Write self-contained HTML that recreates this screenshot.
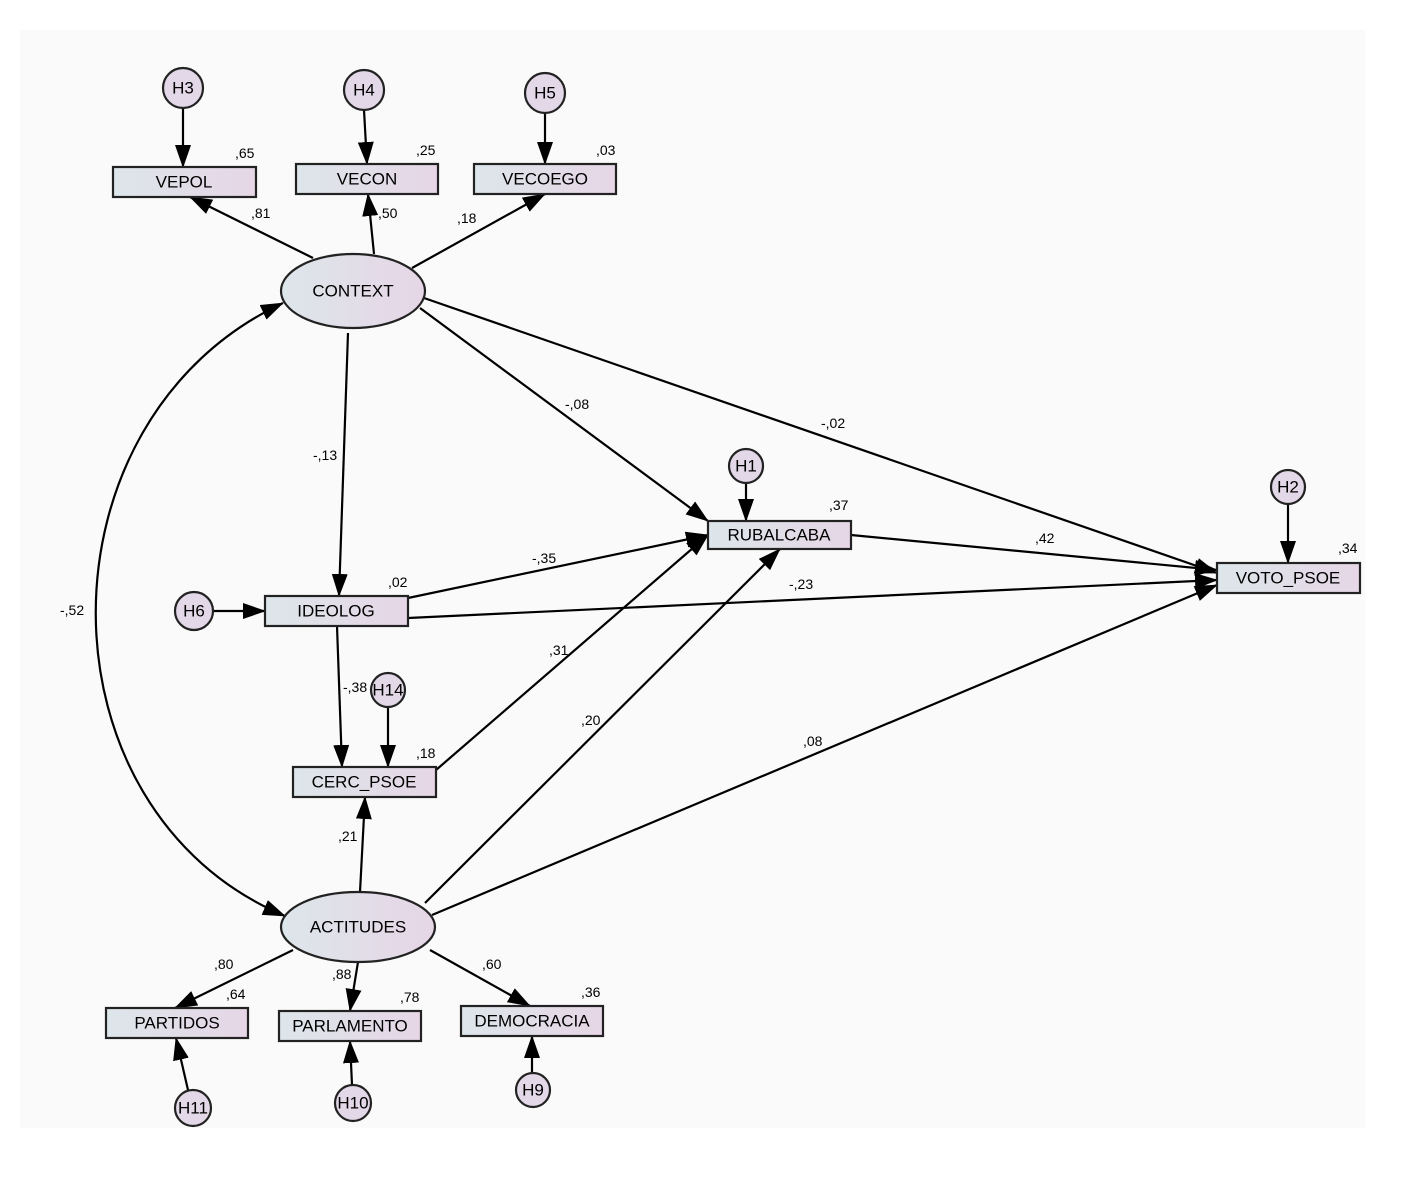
<!DOCTYPE html>
<html><head><meta charset="utf-8"><style>
body{margin:0;background:#fff}
svg{display:block}
text{font-family:"Liberation Sans",sans-serif;fill:#000}
.n{font-size:17px;text-anchor:middle;dominant-baseline:central}
.l{font-size:14px}
</style></head><body>
<svg width="1425" height="1185" viewBox="0 0 1425 1185" xmlns="http://www.w3.org/2000/svg">
<defs>
<linearGradient id="g" x1="0" y1="0" x2="1" y2="0"><stop offset="0" stop-color="#dde6ea"/><stop offset="1" stop-color="#e6d6e6"/></linearGradient>
<marker id="a" markerUnits="userSpaceOnUse" markerWidth="24" markerHeight="16" refX="22" refY="8" orient="auto"><path d="M0,0 L23,8 L0,16 Z" fill="#000"/></marker>
<marker id="b" markerUnits="userSpaceOnUse" markerWidth="24" markerHeight="16" refX="22" refY="8" orient="auto-start-reverse"><path d="M0,0 L23,8 L0,16 Z" fill="#000"/></marker>
</defs>
<rect x="20" y="30" width="1345" height="1098" fill="#fafafa"/>
<g stroke="#000" stroke-width="2.2" fill="none" marker-end="url(#a)">
<line x1="183" y1="108" x2="183" y2="167"/>
<line x1="364" y1="110" x2="367" y2="164"/>
<line x1="545" y1="113" x2="545" y2="164"/>
<line x1="313" y1="258" x2="190" y2="197"/>
<line x1="374" y1="254" x2="368" y2="194"/>
<line x1="412" y1="268" x2="545" y2="194"/>
<line x1="420" y1="308" x2="708" y2="521"/>
<line x1="424" y1="298" x2="1217" y2="573"/>
<line x1="348" y1="333" x2="339" y2="596"/>
<line x1="746" y1="483" x2="746" y2="521"/>
<line x1="1288" y1="504" x2="1288" y2="563"/>
<line x1="851" y1="535" x2="1217" y2="570"/>
<line x1="214" y1="611" x2="265" y2="611"/>
<line x1="408" y1="598" x2="708" y2="535"/>
<line x1="408" y1="618" x2="1217" y2="580"/>
<line x1="337" y1="626" x2="342" y2="767"/>
<line x1="388" y1="707" x2="388" y2="767"/>
<line x1="436" y1="770" x2="708" y2="535"/>
<line x1="360" y1="892" x2="365" y2="797"/>
<line x1="425" y1="903" x2="780" y2="549"/>
<line x1="432" y1="915" x2="1217" y2="585"/>
<line x1="293" y1="950" x2="175" y2="1008"/>
<line x1="358" y1="962" x2="350" y2="1011"/>
<line x1="430" y1="950" x2="530" y2="1006"/>
<line x1="188" y1="1090" x2="176" y2="1038"/>
<line x1="352" y1="1085" x2="350" y2="1041"/>
<line x1="532" y1="1072" x2="532" y2="1036"/>
<path d="M283,303 C33,420 33,810 285,916" marker-start="url(#b)"/>
</g>
<g stroke="#222" stroke-width="2.2" fill="url(#g)">
<g fill="#e3d8e8">
<circle cx="183" cy="88" r="20"/><circle cx="364" cy="90" r="20"/><circle cx="545" cy="93" r="20"/>
<circle cx="746" cy="466" r="17"/><circle cx="1288" cy="487" r="17"/><circle cx="194" cy="611" r="19"/>
<circle cx="388" cy="690" r="17"/><circle cx="193" cy="1108" r="18"/><circle cx="353" cy="1103" r="18"/><circle cx="533" cy="1090" r="17"/>
</g>
<rect x="113" y="167" width="143" height="30"/><rect x="296" y="164" width="142" height="30"/><rect x="474" y="164" width="142" height="30"/>
<rect x="708" y="521" width="143" height="28"/><rect x="1217" y="563" width="143" height="30"/><rect x="265" y="596" width="143" height="30"/>
<rect x="293" y="767" width="143" height="30"/><rect x="106" y="1008" width="142" height="30"/><rect x="279" y="1011" width="142" height="30"/><rect x="461" y="1006" width="142" height="30"/>
<ellipse cx="353" cy="291" rx="72" ry="37"/><ellipse cx="358" cy="927" rx="77" ry="35"/>
</g>
<g class="n">
<text x="183" y="88">H3</text><text x="364" y="90">H4</text><text x="545" y="93">H5</text>
<text x="746" y="466">H1</text><text x="1288" y="487">H2</text><text x="194" y="611">H6</text>
<text x="388" y="690">H14</text><text x="193" y="1108">H11</text><text x="353" y="1103">H10</text><text x="533" y="1090">H9</text>
<text x="184" y="182">VEPOL</text><text x="367" y="179">VECON</text><text x="545" y="179">VECOEGO</text>
<text x="779" y="535">RUBALCABA</text><text x="1288" y="578">VOTO_PSOE</text><text x="336" y="611">IDEOLOG</text>
<text x="364" y="782">CERC_PSOE</text><text x="177" y="1023">PARTIDOS</text><text x="350" y="1026">PARLAMENTO</text><text x="532" y="1021">DEMOCRACIA</text>
<text x="353" y="291">CONTEXT</text><text x="358" y="927">ACTITUDES</text>
</g>
<g class="l">
<text x="235" y="158">,65</text><text x="416" y="155">,25</text><text x="596" y="155">,03</text>
<text x="251" y="218">,81</text><text x="378" y="218">,50</text><text x="457" y="223">,18</text>
<text x="565" y="409">-,08</text><text x="821" y="428">-,02</text><text x="313" y="460">-,13</text>
<text x="829" y="510">,37</text><text x="1338" y="553">,34</text><text x="1035" y="543">,42</text>
<text x="532" y="563">-,35</text><text x="388" y="587">,02</text><text x="789" y="589">-,23</text>
<text x="60" y="615">-,52</text><text x="549" y="655">,31</text><text x="343" y="692">-,38</text>
<text x="416" y="758">,18</text><text x="581" y="725">,20</text><text x="803" y="746">,08</text>
<text x="338" y="841">,21</text><text x="214" y="969">,80</text><text x="226" y="999">,64</text>
<text x="332" y="979">,88</text><text x="400" y="1002">,78</text><text x="482" y="969">,60</text><text x="581" y="997">,36</text>
</g>
</svg>
</body></html>
